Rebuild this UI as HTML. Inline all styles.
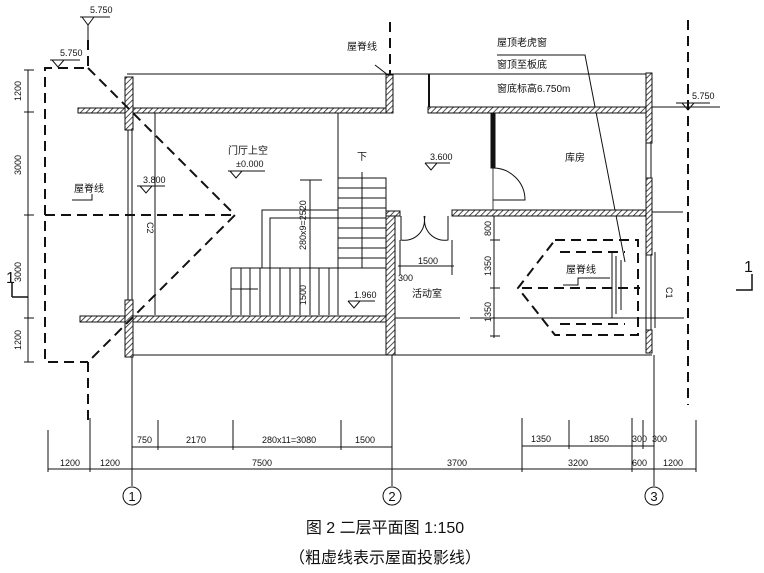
<!DOCTYPE html>
<html><head><meta charset="utf-8"><style>
html,body{margin:0;padding:0;background:#fff;}
svg{display:block;}
text{font-family:"Liberation Sans","Noto Sans CJK SC",sans-serif;fill:#111;}
</style></head><body>
<svg width="764" height="573" viewBox="0 0 764 573" xmlns="http://www.w3.org/2000/svg">
<defs>
<pattern id="h" width="4" height="4" patternUnits="userSpaceOnUse" patternTransform="rotate(45)">
<rect width="4" height="4" fill="#fff"/><line x1="0" y1="0" x2="0" y2="4" stroke="#222" stroke-width="1.6"/>
</pattern>
</defs>
<g stroke="#111" fill="none" stroke-width="1">
<line x1="127" y1="74" x2="652" y2="74"/>
<line x1="130" y1="355" x2="652" y2="355"/>
<line x1="155" y1="113" x2="155" y2="315"/>
<line x1="338" y1="113" x2="338" y2="268"/>
<line x1="429" y1="74" x2="429" y2="107" stroke-width="2"/>
<line x1="652" y1="107" x2="720" y2="107"/>
<line x1="652" y1="212" x2="683" y2="212"/>
<line x1="395" y1="318" x2="460" y2="318"/>
<line x1="470" y1="318" x2="684" y2="318"/>
<line x1="128" y1="130" x2="128" y2="300"/><line x1="132" y1="130" x2="132" y2="300"/>
<line x1="646" y1="143" x2="646" y2="178"/><line x1="651" y1="143" x2="651" y2="178"/>
<line x1="646" y1="255" x2="646" y2="330"/><line x1="651" y1="255" x2="651" y2="330"/><line x1="655" y1="252" x2="655" y2="328"/>
<line x1="132" y1="355" x2="132" y2="486"/>
<line x1="392" y1="355" x2="392" y2="486"/>
<line x1="654" y1="355" x2="654" y2="486"/>
<circle cx="132" cy="496" r="9"/><circle cx="392" cy="496" r="9"/><circle cx="654" cy="496" r="9"/>
<rect x="338" y="178" width="48" height="90"/>
<path d="M338 188H386M338 198H386M338 208H386M338 218H386M338 228H386M338 238H386M338 248H386M338 258H386"/>
<path d="M231 268H338V315M231 268V315"/>
<path d="M241 268V315M250 268V315M260 268V315M270 268V315M280 268V315M290 268V315M300 268V315M310 268V315M319 268V315M329 268V315"/>
<path d="M231 289H258"/>
<path d="M262 268V210H338M270 268V218H338"/>
<path d="M300 180H322M310 180V315"/>
<path d="M362 172V268"/>
<line x1="493" y1="168" x2="493" y2="212" stroke-width="0.8"/>
<path d="M493 168A32 32 0 0 1 525 200H493"/>
<path d="M401 216V240A20 20 0 0 0 424 216M448 216V240A20 20 0 0 1 425 216"/>
<path d="M400 240V275M452 240V275M398 266H454"/>
<path d="M494 215V338M490 240H500M490 288H500M490 336H500"/>
<path d="M497 55H585L625 262"/>
<path d="M612 252V318M616 256V314M621 260V310"/>
<path d="M28 70V362M24 70H34M24 112H34M24 215H34M24 318H34M24 362H34"/>
<path d="M48 469H696"/>
<path d="M48 430V472M90 418V472M132 420V472M392 418V472M522 418V472M632 418V472M654 418V472M696 420V472"/>
<path d="M132 447H392M158 420V450M233 420V450M341 420V450"/>
<path d="M522 446H654M569 420V449M643 420V449"/>
<path d="M12 297H28M12 297V282" stroke-width="1.5"/>
<path d="M736 290H752V274" stroke-width="1.5"/>
<path d="M563 285H578V278H610" />
<path d="M72 200H92V194"/>
<path d="M80 17H110M82 17L88 25L94 17M88 25V40" />
<path d="M50 60H80M52 60L58 67L64 60"/>
<path d="M676 103H710M682 103L688 110L694 103"/>
<path d="M137 186H165M140 186L146 193L152 186"/>
<path d="M228 171H265M230 171L236 178L242 171"/>
<path d="M425 163H450M425 163L431 170L437 163"/>
<path d="M348 301H375M348 301L354 308L360 301"/>
<path d="M375 65L388 75"/>
</g>
<g fill="url(#h)" stroke="#111" stroke-width="1">
<rect x="78" y="108" width="312" height="5"/>
<rect x="80" y="316" width="310" height="6"/>
<rect x="125" y="77" width="8" height="53"/>
<rect x="125" y="300" width="8" height="57"/>
<rect x="386" y="75" width="7" height="38"/>
<rect x="386" y="211" width="9" height="144"/>
<rect x="386" y="211" width="14" height="5"/>
<rect x="428" y="107" width="222" height="6"/>
<rect x="452" y="210" width="198" height="6"/>
<rect x="646" y="73" width="6" height="70"/>
<rect x="646" y="178" width="6" height="77"/>
<rect x="646" y="330" width="6" height="23"/>
<rect x="491" y="113" width="4" height="55" fill="#111"/>
</g>
<g stroke="#111" fill="none" stroke-width="2" stroke-dasharray="10,6">
<path d="M88 40V68H45V362H88"/>
<path d="M88 68L235 215L88 362"/>
<path d="M45 215H235"/>
<path d="M88 362V420"/>
<path d="M390 22V75"/>
<path d="M688 20V405"/>
<path d="M555 240H638V335H555L518 288Z"/>
<path d="M560 252H625M560 324H625M522 288H640"/>
</g>
<g font-size="9">
<text x="90" y="13">5.750</text>
<text x="60" y="56">5.750</text>
<text x="692" y="99">5.750</text>
<text x="143" y="183">3.800</text>
<text x="236" y="167">±0.000</text>
<text x="430" y="160">3.600</text>
<text x="354" y="298">1.960</text>
<text x="418" y="264">1500</text>
<text x="398" y="281">300</text>
<text x="60" y="466">1200</text>
<text x="100" y="466">1200</text>
<text x="252" y="466">7500</text>
<text x="447" y="466">3700</text>
<text x="568" y="466">3200</text>
<text x="632" y="466">600</text>
<text x="663" y="466">1200</text>
<text x="137" y="443">750</text>
<text x="186" y="443">2170</text>
<text x="262" y="443">280x11=3080</text>
<text x="355" y="443">1500</text>
<text x="531" y="442">1350</text>
<text x="589" y="442">1850</text>
<text x="632" y="442">300</text>
<text x="652" y="442">300</text>
</g>
<g font-size="9">
<text transform="translate(21,101) rotate(-90)">1200</text>
<text transform="translate(21,175) rotate(-90)">3000</text>
<text transform="translate(21,282) rotate(-90)">3000</text>
<text transform="translate(21,350) rotate(-90)">1200</text>
<text transform="translate(306,250) rotate(-90)">280x9=2520</text>
<text transform="translate(306,305) rotate(-90)">1500</text>
<text transform="translate(491,236) rotate(-90)">800</text>
<text transform="translate(491,276) rotate(-90)">1350</text>
<text transform="translate(491,322) rotate(-90)">1350</text>
<text transform="translate(147,222) rotate(90)">C2</text>
<text transform="translate(666,287) rotate(90)">C1</text>
</g>
<g font-size="10">
<text x="347" y="50">屋脊线</text>
<text x="74" y="192">屋脊线</text>
<text x="228" y="154">门厅上空</text>
<text x="357" y="160">下</text>
<text x="565" y="161">库房</text>
<text x="412" y="297">活动室</text>
<text x="566" y="273">屋脊线</text>
<text x="497" y="46">屋顶老虎窗</text>
<text x="497" y="68">窗顶至板底</text>
<text x="497" y="92">窗底标高6.750m</text>
</g>
<text x="6" y="283" font-size="16">1</text>
<text x="744" y="272" font-size="16">1</text>
<g font-size="13" text-anchor="middle">
<text x="132" y="501">1</text><text x="392" y="501">2</text><text x="654" y="501">3</text>
</g>
<text x="385" y="533" font-size="16" text-anchor="middle">图 2 二层平面图 1:150</text>
<text x="385" y="563" font-size="16" text-anchor="middle">（粗虚线表示屋面投影线）</text>
</svg>
</body></html>
